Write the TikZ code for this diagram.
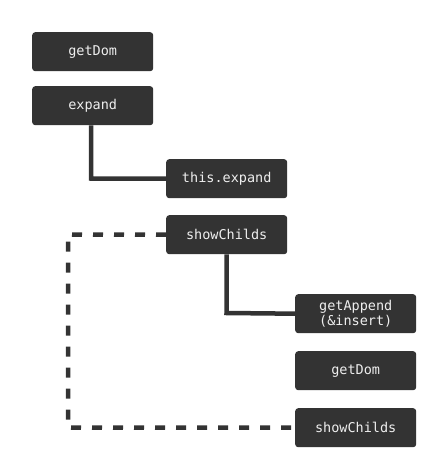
\documentclass[tikz,border=0pt]{standalone}
\usepackage{fontspec}
\setmonofont{DejaVu Sans Mono}
\definecolor{boxc}{HTML}{333333}
\definecolor{txtc}{HTML}{EEEEEE}
\begin{document}
\begin{tikzpicture}[x=1pt,y=-1pt,
  fn/.style={fill=boxc, rounded corners=3pt, minimum width=121pt, minimum height=39pt,
    inner sep=0pt, text=txtc, font=\ttfamily\fontsize{13.5}{14.5}\selectfont, align=center, anchor=north west},
  conn/.style={draw=boxc, line width=4.5pt},
  dconn/.style={draw=boxc, line width=4.5pt, dash pattern=on 10pt off 11pt}]
\useasboundingbox (0,0) rectangle (444,474);
\node[fn] (gd1) at (32,32) {getDom};
\node[fn] (exp) at (32,86) {expand};
\node[fn] (texp) at (166,159) {this.expand};
\node[fn] (sc1) at (166,215) {showChilds};
\node[fn] (ga) at (295,294) {getAppend\\(\&insert)};
\node[fn] (gd2) at (295,351) {getDom};
\node[fn] (sc2) at (295,408) {showChilds};
\coordinate (c1) at (91,178.5);
\coordinate (c2) at (226.5,313);
\coordinate (d1) at (68,234.5);
\coordinate (d2) at (68,427.5);
\draw[conn] (exp.south -| c1) -- (c1) -- (texp.west);
\draw[conn] (sc1.south) -- (c2) -- (ga.west);
\draw[dconn] (sc1.west) -- (d1) -- (d2) -- (sc2.west);
\end{tikzpicture}
\end{document}
